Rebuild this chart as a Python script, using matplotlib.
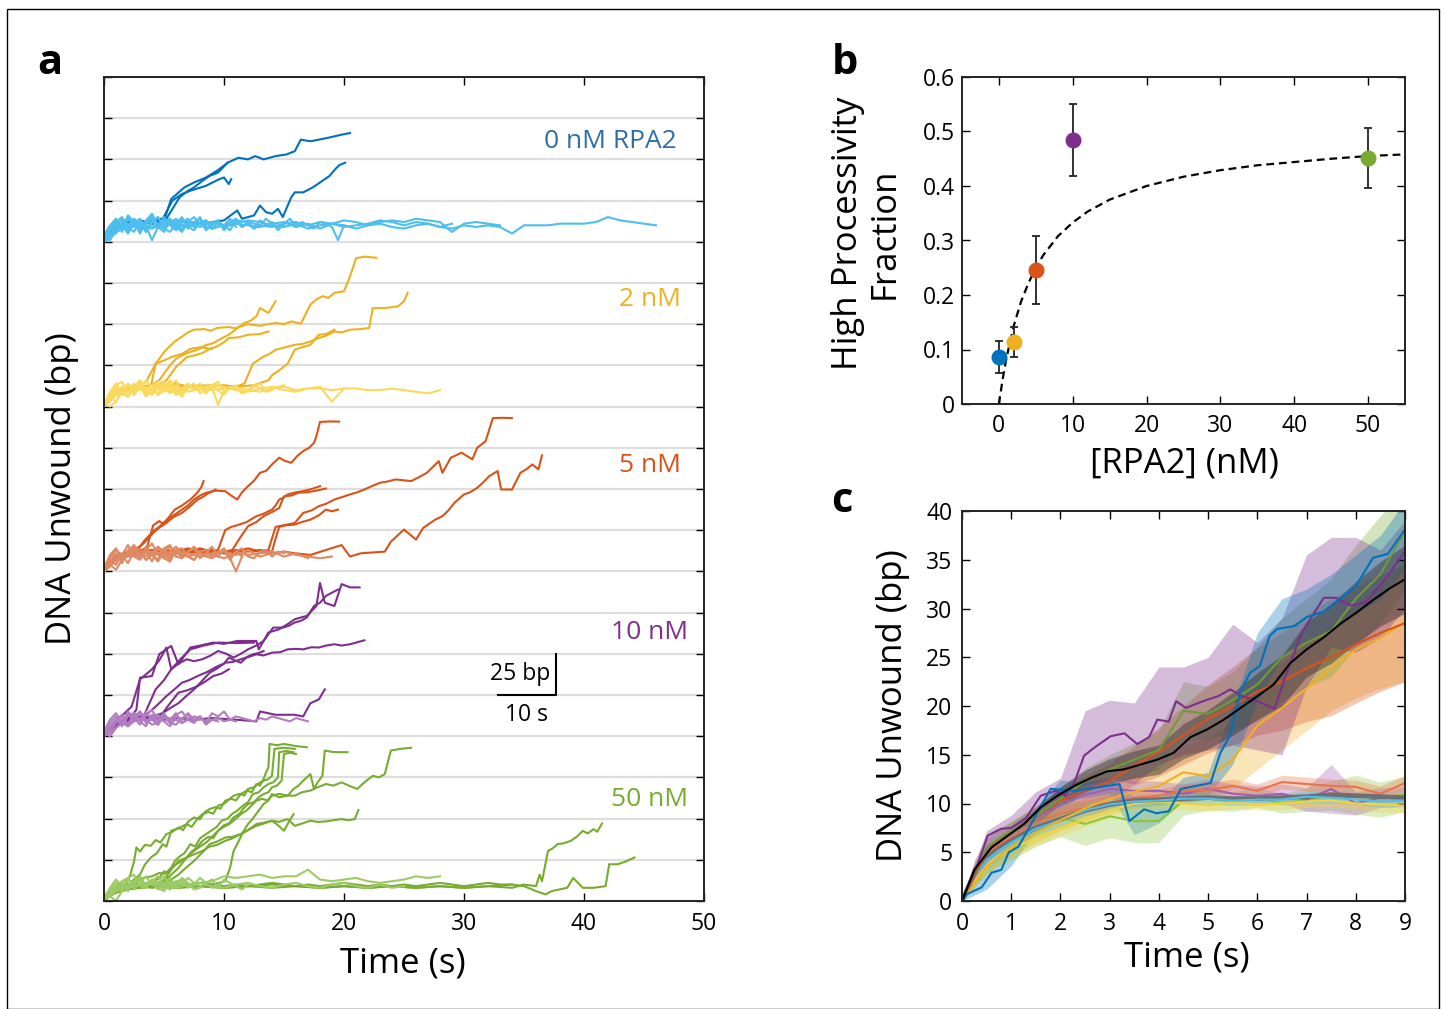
import numpy as np
import matplotlib
matplotlib.use('Agg')
import matplotlib.pyplot as plt
from matplotlib.patches import Rectangle

plt.rcParams['font.family'] = ['Open Sans', 'DejaVu Sans']

# ---------------- panel a data (bp, relative to each group's baseline) ----------------
group_names = ['0 nM RPA2', '2 nM', '5 nM', '10 nM', '50 nM']

# high processivity traces, (time s, bp) knots
hi_0nM = [
    [(0, 1), (1, 9), (2, 11), (3, 12), (4, 11), (4.6, 13), (5.1, 15), (5.6, 26), (6.7, 33), (7.5, 36), (8.5, 39),
     (9.5, 43.5), (10.3, 48), (11.2, 51), (12.0, 50), (12.6, 52), (13.3, 50), (14.3, 52), (15.2, 53), (15.9, 55),
     (16.4, 62), (17.2, 61), (17.9, 62), (18.6, 63), (19.2, 64), (19.8, 65), (20.5, 66)],
    [(0, 0), (1, 8), (2, 12), (3, 11), (4, 13), (4.9, 14), (5.7, 25), (6.5, 29), (7.2, 31), (8.5, 34), (9.6, 38),
     (10.0, 39), (10.4, 35), (10.6, 38)],
    [(0, 2), (1, 7), (2, 10), (3, 12), (4, 12), (5.2, 14), (6.3, 27), (7.0, 31), (7.5, 33), (8.2, 37), (8.8, 40),
     (9.5, 42), (10.3, 48)],
    [(0, 0), (1, 8), (2, 11), (3, 13), (4, 11), (5, 12), (6, 13), (7, 12), (8, 11), (9, 12), (10, 13), (11.1, 19),
     (11.5, 14), (12.0, 15), (12.5, 16), (13.0, 22), (13.5, 18), (14.0, 17), (14.5, 20), (14.9, 15), (15.6, 27),
     (15.9, 30), (16.6, 30), (17.4, 33), (17.8, 35), (18.2, 37), (18.8, 40), (19.2, 43.5), (19.6, 46.5), (20.1, 48)],
]
hi_2nM = [
    [(0, 0), (1, 8), (2, 11), (3, 13), (3.5, 15), (4.3, 26), (4.7, 30), (5.0, 33), (5.4, 36), (5.9, 39.5),
     (6.2, 41), (6.6, 43), (7.0, 45), (7.5, 46.7), (8.4, 47), (8.9, 46), (9.4, 47.7), (10.4, 48.3), (10.9, 47.5),
     (11.4, 48.7), (12.0, 50), (13.0, 49), (13.6, 50), (14.3, 50.7), (15.0, 50), (15.6, 51.7), (16.4, 50.3),
     (17.2, 61.9), (17.7, 65), (18.2, 67), (18.7, 66), (19.2, 69), (20.0, 70), (20.5, 79), (21.0, 90),
     (21.7, 91), (22.7, 90.3)],
    [(0, 1), (1, 9), (2, 12), (3, 11), (4, 13), (4.6, 16), (5.5, 25), (6.0, 29), (6.5, 31), (7.1, 33), (7.8, 34.5),
     (8.4, 37), (9.1, 38.5), (9.7, 41), (10.4, 43.6), (11.0, 47), (11.7, 50.7), (12.2, 52), (12.7, 54.8),
     (13.0, 59.8), (13.7, 56.8), (14.3, 63.9)],
    [(0, 0), (1, 7), (2, 10), (3, 12), (4, 11), (5.2, 16), (6.0, 24), (6.9, 30), (7.5, 31), (8.2, 32.5), (8.8, 35),
     (9.4, 36.5), (10.0, 39), (10.4, 41.6), (11.2, 42), (12.0, 43.6), (13.0, 44), (13.7, 45.6)],
    [(0, 0), (1, 8), (2, 11), (3, 12), (4, 13), (5, 12), (6, 14), (7, 12), (8, 13), (9, 12), (10, 13), (11, 12),
     (11.7, 14), (12.4, 26), (13.3, 30.4), (13.8, 32), (14.3, 34.5), (15.1, 36), (15.9, 37.5), (16.5, 38),
     (17.2, 39.5), (17.9, 41.6), (18.5, 43), (19.2, 45.6), (19.8, 45), (20.5, 46.7), (21.3, 47), (22.1, 47.7),
     (22.4, 59.8), (23.4, 59.8), (24.5, 60.8), (25.0, 64), (25.3, 69)],
    [(0, 1), (1, 9), (2, 12), (3, 11), (5, 13), (7, 12), (9, 13), (11, 12), (12.5, 13), (13.7, 16), (14.0, 19),
     (14.6, 22), (15.3, 26), (15.9, 34.5), (16.5, 36), (17.2, 37.5), (17.9, 43.6), (18.5, 44), (19.2, 46.7)],
    [(0, 0), (1, 9), (2, 12), (3, 13), (3.9, 12), (4.3, 26), (5.0, 28), (5.6, 30), (6.5, 32), (7.2, 35),
     (8.0, 36), (9.0, 35)],
]
hi_5nM = [
    [(0, 0), (1, 8), (2, 11), (3, 12), (3.6, 15), (4.1, 28), (4.6, 30.5), (4.9, 29), (5.2, 31), (5.8, 34),
     (6.5, 37.5), (7.0, 40), (7.5, 43.6), (8.0, 46), (8.5, 47.7), (9.3, 49), (10.1, 48.7), (10.6, 46),
     (11.1, 43.6), (11.5, 48), (12.0, 51.7), (12.5, 55), (13.0, 59.8), (13.5, 61), (14.0, 64.9), (14.6, 69),
     (15.1, 67), (15.6, 65.9), (16.1, 70), (16.6, 73), (17.1, 75), (17.5, 78), (17.7, 82.1), (18.0, 90.7),
     (18.8, 91), (19.6, 90.9)],
    [(0, 1), (1, 9), (2, 12), (3.0, 15), (3.4, 19), (3.8, 22), (4.2, 25), (4.6, 27), (5.2, 31), (5.9, 37.5),
     (6.5, 40), (7.2, 43.6), (7.8, 48), (8.1, 51), (8.3, 54.8)],
    [(0, 0), (1, 7), (2, 11), (2.8, 14), (3.3, 17), (3.8, 21), (4.2, 24), (4.7, 27), (5.2, 29.4), (5.8, 33),
     (6.5, 35.5), (7.1, 39), (7.8, 43.6), (8.2, 45), (8.6, 47), (9.3, 49.7)],
    [(0, 2), (1, 8), (2, 11), (3, 12), (4, 11), (5, 13), (6, 12), (7, 11), (8, 13), (9, 12), (9.5, 13),
     (9.8, 19), (10.1, 25), (10.6, 27), (11.1, 28), (11.9, 30), (12.7, 33.5), (13.3, 35), (14.0, 37.5),
     (14.3, 40), (14.6, 43.6), (15.0, 45), (15.3, 46.7), (16.0, 48), (16.6, 48.7), (17.3, 50), (18.0, 51.7)],
    [(0, 0), (1, 9), (2, 12), (3, 11), (4, 13), (5, 12), (6, 11), (7, 13), (8, 12), (9, 11), (10, 12),
     (10.7, 13), (11.3, 20), (12.0, 27.4), (12.7, 30), (13.3, 33.5), (14.0, 36), (14.6, 38.5), (15.0, 45.6),
     (15.6, 46), (16.2, 47.7), (16.9, 48), (17.5, 48.7), (18.0, 49.5), (18.5, 50.3)],
    [(0, 1), (1, 8), (2, 11), (3, 12), (4, 13), (5, 11), (6, 12), (7, 14), (8, 12), (9, 13), (10, 11), (11, 12),
     (12, 13), (13, 12), (13.7, 13), (14.3, 27), (15.9, 29.4), (16.6, 35.5), (17.3, 37), (17.9, 39.6),
     (18.5, 41), (19.2, 43.6), (19.8, 45), (20.5, 46.7), (21.1, 48), (21.7, 49.7), (22.4, 52), (23.0, 53.8),
     (23.6, 54.5), (24.3, 55.8), (25.6, 54.8), (26.2, 57), (26.9, 59.8), (27.9, 66.9), (28.2, 59.8),
     (28.9, 69), (29.8, 72), (30.7, 68), (31.1, 75), (31.8, 79), (32.1, 86), (32.4, 93), (33.2, 93.2),
     (34.0, 93)],
    [(0, 0), (1, 9), (2, 11), (3, 13), (4, 12), (5, 11), (6, 13), (7, 12), (8, 14), (9, 12), (10, 11), (11, 13),
     (12, 12), (13, 13), (14, 12), (14.3, 20), (14.6, 27), (15.2, 28), (15.9, 28.4), (16.5, 30), (17.2, 31.4),
     (17.9, 34), (18.5, 37.5), (19.0, 36.5), (19.5, 37.5)],
    [(0, 0), (1, 7), (2, 10), (3, 12), (4, 11), (5, 13), (6, 12), (7, 11), (8, 12), (9, 13), (10, 11), (11, 12),
     (12, 14), (13, 12), (14, 11), (15, 12), (15.9, 11), (17.2, 10), (18.5, 13), (19.8, 16), (20.5, 9),
     (21.4, 11), (23.4, 12), (23.9, 18), (25.0, 25.4), (26.0, 19.3), (26.6, 26.4), (27.6, 31.4), (28.2, 33.5),
     (28.7, 37), (29.2, 41.6), (30.0, 46.7), (30.5, 48), (31.1, 50.7), (31.6, 54), (32.1, 57.8), (32.8, 60.9),
     (33.1, 49.7), (34.0, 49.7), (34.7, 59.8), (35.2, 62), (35.7, 64.9), (36.2, 61.9), (36.5, 70.4)],
]
hi_10nM = [
    [(0, 0), (1, 7), (2, 10), (2.7, 16), (3.0, 35.5), (4.0, 36.5), (4.6, 49.7), (5.6, 54.8), (6.2, 43.6),
     (7.2, 53.8), (8.0, 55), (9.1, 56.8), (10.0, 56), (11.1, 57.8), (12.7, 57.8), (12.9, 52.7), (13.7, 62.9),
     (14.6, 64.9), (15.3, 68), (15.9, 71), (16.9, 73), (17.7, 79), (18.0, 93), (18.4, 81), (19.2, 79),
     (19.8, 92.3), (20.5, 90.3), (21.3, 90.3)],
    [(0, 1), (1, 8), (2, 11), (3.3, 12), (4.3, 28.4), (5.0, 34), (5.6, 40.6), (6.2, 44), (6.9, 46.7), (7.5, 45.5),
     (8.2, 46.7), (8.9, 49), (9.5, 51.7), (10.2, 50), (10.8, 47.7), (11.4, 50), (12.0, 52.7), (12.7, 55),
     (13.3, 57.8), (14.1, 65.9), (14.9, 65.9), (15.4, 67), (15.9, 69), (16.4, 70), (16.9, 72), (17.5, 79),
     (18.0, 81), (18.5, 85.2), (19.5, 89)],
    [(0, 0), (1, 8), (2, 10), (3, 11), (4, 12), (4.9, 14), (5.5, 17), (6.2, 20), (6.8, 24), (7.5, 28.4),
     (8.1, 33), (8.8, 38.5), (9.4, 41), (10.1, 44.6), (10.7, 45), (11.4, 46.7), (12.0, 48), (12.7, 49.7),
     (13.3, 49), (14.0, 50.7), (14.7, 51), (15.3, 52.7), (16.0, 53), (16.6, 52.7), (17.3, 54), (17.9, 53.8),
     (18.5, 55), (19.2, 55.8), (19.8, 55), (20.5, 55.8), (21.1, 57), (21.7, 58.2)],
    [(0, 0), (1, 7), (2, 9), (3, 10), (4, 11), (5, 10), (6, 11), (7.5, 10), (9, 11), (11, 10), (12.7, 9),
     (13.0, 15), (14.3, 13), (15.9, 13), (16.6, 12), (17.2, 20), (17.9, 22.3), (18.4, 28.4)],
    [(0, 1), (1, 9), (2.3, 18), (3.0, 34.5), (4.0, 40.6), (4.6, 46), (5.2, 53.8), (5.6, 40.6), (6.4, 47),
     (7.2, 52.7), (8.3, 55), (9.5, 56.8), (11.0, 56.5), (12.5, 56.8)],
    [(0, 0), (1, 8), (2, 10), (3, 12), (3.5, 13), (4.0, 16), (4.6, 20), (5.2, 24.3), (5.8, 28), (6.5, 32.5),
     (7.1, 34), (7.8, 36.5), (8.6, 39), (9.5, 42.6), (10.0, 44), (10.4, 47.7), (10.9, 46), (11.4, 44.6),
     (11.9, 48), (12.4, 49.7), (12.9, 50.5), (13.3, 51.7)],
    [(0, 0), (1, 7), (2, 9), (3, 11), (4.6, 11), (5.4, 19), (6.2, 26.4), (7.0, 28), (7.8, 30.4), (8.4, 33),
     (9.1, 36.5), (9.8, 38), (10.4, 40.6)],
]
hi_50nM = [
    [(0, 0), (1, 7), (1.8, 10), (2.2, 16), (2.5, 24), (2.7, 32.5), (3.0, 30), (3.4, 34), (3.9, 33.5), (4.3, 37),
     (4.7, 35.5), (5.2, 40.6), (5.7, 42), (6.2, 44.6), (6.6, 43), (7.0, 48), (7.5, 50.7), (8.0, 49.5), (8.4, 54),
     (8.8, 55.8), (9.3, 57), (9.7, 56), (10.1, 60.9), (10.6, 62), (11.0, 61), (11.4, 64.9), (11.9, 67),
     (12.3, 66), (12.7, 71), (13.0, 70), (13.3, 74), (13.5, 78), (13.7, 81), (13.8, 95.3), (14.4, 94.5),
     (15.0, 95.3), (16.0, 94), (16.9, 93.3)],
    [(0, 1), (1, 8), (2, 10), (3.0, 16), (3.4, 22), (3.9, 26.4), (4.4, 29), (4.9, 34.5), (5.2, 33), (5.6, 42.6),
     (6.2, 44), (6.9, 46.7), (7.3, 45), (7.8, 50), (8.2, 52.7), (8.7, 54), (9.1, 53), (9.5, 57.8), (10.0, 59),
     (10.4, 61.5), (10.8, 63.9), (11.3, 65), (11.7, 64), (12.0, 68), (12.5, 69), (12.9, 71.5), (13.3, 73),
     (13.7, 74), (14.0, 76), (14.2, 92.3), (15.0, 93), (15.9, 92.3)],
    [(0, 0), (1, 7), (2, 9), (3, 10), (4.0, 11), (4.6, 14), (5.0, 18), (5.4, 17), (5.9, 24.3), (6.3, 27),
     (6.7, 29), (7.2, 34.5), (7.6, 33), (8.0, 38), (8.5, 40.6), (9.0, 43), (9.4, 45), (9.8, 48.7), (10.3, 50),
     (10.7, 53), (11.1, 54.8), (11.6, 58), (12.0, 60), (12.4, 64.9), (12.9, 66), (13.3, 69), (13.7, 71),
     (14.1, 72), (14.5, 75), (14.6, 90.3), (15.2, 91), (15.8, 90.3)],
    [(0, 0), (1, 8), (2, 10), (3, 11), (4, 10), (5.0, 12), (5.6, 16), (6.2, 20), (6.9, 26.4), (7.3, 30),
     (7.7, 32), (8.2, 36.5), (8.7, 39), (9.1, 38), (9.5, 42.6), (10.0, 46), (10.4, 47), (10.8, 50.7),
     (11.3, 53), (11.6, 56), (12.0, 58.8), (12.5, 60), (12.9, 63), (13.3, 64.9), (13.7, 66), (14.0, 69),
     (14.4, 70), (14.8, 73), (15.0, 89.2), (15.5, 90), (16.0, 89.2)],
    [(0, 0), (1, 7), (2.0, 10), (2.7, 12), (3.3, 14), (4, 15), (4.6, 17), (5.1, 16.5), (5.6, 20.3), (6.2, 23),
     (6.8, 26), (7.5, 30.4), (8.0, 33), (8.6, 36), (9.0, 39), (9.5, 42.6), (10.0, 45), (10.5, 47), (11.0, 50),
     (11.4, 52.7), (11.9, 55), (12.3, 58), (12.7, 60.9), (13.2, 62), (13.6, 61), (14.0, 63.9), (14.6, 65),
     (15.3, 63.9), (15.8, 68), (16.2, 70), (16.6, 73), (17.2, 77), (17.5, 68), (17.8, 72), (18.2, 76),
     (18.4, 91.3), (19.0, 90.5), (19.5, 90.3), (20.3, 90.3)],
    [(0, 0), (1, 6), (2, 9), (3, 10), (4, 9), (5, 10), (6, 11), (7, 10), (8, 11), (9, 10), (10.1, 12),
     (10.5, 20), (10.8, 30.4), (11.2, 36), (11.6, 42), (12.0, 46.7), (12.4, 50), (12.9, 55), (13.3, 58.8),
     (13.7, 61), (14.0, 64.9), (14.6, 62.9), (15.2, 64), (15.9, 63.9), (16.5, 66), (17.2, 67), (17.8, 69),
     (18.5, 71), (19.1, 70), (19.8, 72), (20.4, 70), (21.1, 68), (21.7, 72), (22.4, 76), (22.9, 75),
     (23.4, 77), (23.9, 91.3), (24.7, 92.3), (25.6, 93)],
    [(0, 0), (1, 7), (2, 9), (3, 8), (4.0, 9), (4.6, 8), (5.2, 15), (5.7, 20), (6.2, 24.3), (6.8, 26),
     (7.4, 28), (8.2, 30.4), (8.8, 33), (9.4, 34), (10.1, 36.5), (10.7, 38), (11.4, 40.6), (12.0, 43),
     (12.7, 46.7), (13.3, 47.5), (14.0, 48.7), (14.6, 48), (15.3, 49.7), (15.9, 45.6), (16.5, 47), (17.2, 48.7),
     (17.8, 48), (18.5, 48.3), (19.1, 49), (19.8, 49.7), (20.4, 49), (20.9, 49.7), (21.2, 55.2)],
    [(0, 1), (1, 8), (2, 10), (3, 9), (4, 10), (5, 11), (5.6, 13), (6.2, 16), (6.8, 20), (7.5, 24.3), (8.0, 28),
     (8.4, 31), (8.8, 34.5), (9.4, 36), (10.1, 38.5), (10.7, 39), (11.4, 40.6), (12.0, 43), (12.7, 45.6),
     (13.3, 47), (14.0, 48.7), (14.5, 46), (15.0, 42.6), (15.4, 48), (15.8, 52.7)],
    [(0, 0), (1, 6), (2, 8), (3, 9), (4, 8), (5, 9), (6, 8), (8, 9), (10, 8), (12, 9), (14, 8), (16, 9), (18, 8),
     (20, 9), (22, 8), (24, 9), (26, 8), (28, 9), (30, 8), (32, 9), (34, 8), (35, 10), (36.0, 9), (36.3, 16),
     (36.5, 12), (37.0, 30.4), (37.4, 32), (37.8, 34.5), (38.3, 35), (38.9, 36.5), (39.4, 39), (39.9, 42.6),
     (40.3, 41), (40.8, 43.6), (41.1, 42), (41.5, 47)],
    [(0, 1), (1, 5), (2, 7), (3, 8), (4, 9), (6, 8), (8, 9), (10, 8), (12, 9), (14, 10), (16, 9), (18, 8),
     (20, 9), (22, 8), (24, 9), (26, 8), (28, 9), (30, 8), (32, 9), (34, 10), (35, 9), (36, 6), (36.8, 4),
     (37.3, 6), (38.6, 8), (39.1, 14), (39.9, 8), (40.8, 8), (41.8, 9), (42.1, 22.3), (42.8, 22.3),
     (43.5, 24), (44.2, 26.4)],
]

# low processivity traces: (sampling step s, bp values)
lo_0nM = [
    (1.0, [0, 7, 10, 11, 9, 12, 10, 9, 11, 12, 9, 11, 10, 9, 11, 12, 9, 11, 8, 11, 10, 8, 10, 11, 9, 8, 10, 11, 9,
           8, 10, 9, 10, 9, 5, 10, 10, 10, 11, 11, 11, 12, 15, 13, 12, 11, 10]),
    (1.0, [0, 6, 9, 11, 12, 10, 13, 11, 9, 12, 10, 13, 12, 10, 9, 11, 12, 10, 12, 11, 13, 12, 10, 12, 13, 12, 14,
           13, 12, 6, 11, 12, 11, 10]),
    (1.0, [0, 8, 11, 9, 8, 11, 12, 9, 11, 8, 10, 11, 13, 12, 10, 9, 11, 8, 10, 11, 9, 10, 11, 13, 12, 10, 12, 11,
           9, 11]),
    (0.5, [0, 6, 11, 7, 14, 9, 13, 6, 12, 15, 8, 11, 14, 7, 12, 10, 15, 8, 11, 13, 7, 12, 14, 9, 11, 8, 13, 10,
           12, 7, 11, 14, 9, 12, 10, 8, 12, 11, 9, 1, 10]),
    (0.5, [2, 8, 13, 6, 15, 10, 7, 12, 16, 9, 6, 13, 11, 15, 8, 12, 14, 7, 10, 13]),
    (0.5, [0, 3, 9, 14, 8, 12, 5, 13, 17, 10, 8, 14, 9, 6, 12, 15, 11, 8]),
    (0.5, [1, 7, 12, 15, 9, 6, 13, 10, 1, 9, 13, 11, 8, 14, 10, 12]),
    (0.5, [0, 2, 6, 10, 5, 11, 14, 7, 12, 15, 8, 6, 11, 14, 9, 7, 12, 13, 8, 11, 10, 7, 13, 9, 12, 8, 10, 14, 11,
           9, 10]),
    (0.5, [4, 10, 14, 8, 16, 12, 7, 11, 15, 9, 12, 14, 8, 10]),
    (0.5, [0, 9, 5, 12, 8, 14, 11, 6, 13, 9, 15, 10, 7, 12, 14, 9, 11, 13, 8, 12, 10, 14, 9]),
    (0.5, [3, 1, 7, 11, 6, 13, 9, 12, 16, 10, 8, 13, 11, 7, 12]),
]
lo_2nM = [
    (1.0, [0, 7, 9, 11, 10, 12, 11, 9, 11, 10, 11, 12, 10, 9, 11, 12, 10, 11, 11, 10, 11, 11, 10, 10, 11, 10, 9,
           8, 10]),
    (1.0, [0, 8, 10, 11, 12, 10, 9, 12, 11, 13, 12, 10, 9, 11, 12, 10, 9, 11, 12, 3, 11]),
    (0.5, [1, 6, 11, 7, 13, 9, 14, 8, 12, 15, 9, 13, 7, 11, 14, 10, 12, 8, 13, 15, 9, 11, 13, 8, 10, 12, 14, 9, 11,
           12, 13]),
    (0.5, [0, 5, 12, 8, 14, 10, 15, 9, 13, 7, 12, 16, 10, 8, 13, 11, 14, 9, 12, 1, 10]),
    (0.5, [2, 0, 3, 9, 13, 7, 12, 6, 11, 14, 12, 8, 10]),
    (0.5, [0, 8, 13, 15, 9, 14, 10, 16, 11, 8, 14, 12]),
    (0.5, [0, 4, 9, 12, 6, 11, 14, 8, 13, 7, 10, 15, 9, 6, 12, 14, 8, 11, 13, 10, 7, 12, 11, 8, 10, 13, 11, 9, 10]),
    (0.5, [1, 9, 14, 8, 6, 12, 16, 11, 7, 12, 15, 9, 13, 8, 11]),
    (0.5, [0, 6, 3, 10, 13, 9, 15, 11, 8, 14, 10, 12, 16, 9, 13, 11, 10]),
]
lo_5nM = [
    (1.0, [0, 7, 9, 10, 12, 9, 12, 11, 9, 11, 12, 10, 13, 9, 11, 12, 10, 9, 8, 9]),
    (0.5, [0, 4, 9, 6, 12, 15, 8, 13, 10, 7, 14, 16, 9, 8, 12, 14, 8, 11, 15, 9, 13, 7, 12, 14, 9, 8, 12, 13, 9,
           12, 11]),
    (0.5, [2, 4, 1, 7, 11, 13, 8, 15, 10, 7, 14, 9, 13, 8, 12, 15, 11, 9, 8, 12, 13, 8, 0, 9]),
    (0.5, [0, 8, 13, 10, 16, 9, 7, 13, 17, 10, 8, 12, 15, 11, 9, 7, 12]),
    (0.5, [1, 6, 11, 5, 13, 15, 9, 12, 6, 14, 11, 8, 11]),
    (1.0, [0, 8, 11, 9, 10, 12, 11, 9, 11, 10, 8, 11, 10, 11, 12, 9, 11, 8]),
    (0.5, [0, 3, 7, 10, 5, 12, 14, 7, 11, 15, 8, 6, 13, 14, 9, 7, 12, 13, 8, 11, 14, 9, 12, 9]),
    (0.5, [2, 10, 14, 7, 12, 16, 11, 7, 10, 15, 12, 6, 13, 10]),
    (0.5, [0, 7, 4, 11, 9, 14, 8, 13, 10, 6, 12, 15, 9]),
]
lo_10nM = [
    (0.5, [0, 6, 10, 7, 12, 14, 9, 6, 13, 10, 14, 8, 7, 11, 13, 9, 12, 8, 14, 12, 15, 10, 9]),
    (0.5, [2, 0, 5, 9, 7, 13, 14, 8, 11, 13, 9, 6, 12, 10, 14, 10, 10]),
    (0.5, [0, 8, 12, 6, 14, 9, 15, 10, 7, 8, 13, 9, 13, 15, 10, 8, 12, 7, 10, 9]),
    (0.5, [1, 4, 10, 13, 7, 14, 9, 15, 10, 7, 12, 8, 10]),
    (0.5, [0, 2, 5, 8, 6, 9, 11, 9, 10, 12, 9, 11, 10, 8, 10, 12, 11, 9, 10, 11, 9, 10, 12, 11, 10, 9, 11, 10, 12,
           11, 10, 9, 11, 10, 9]),
    (0.5, [3, 10, 14, 8, 15, 11, 7, 13, 16, 9, 12, 9]),
    (0.5, [0, 3, 8, 12, 6, 11, 15, 9, 12, 7, 13, 10, 14, 8, 11]),
]
lo_50nM = [
    (1.0, [0, 7, 9, 10, 12, 10, 11, 9, 11, 12, 15, 14, 15, 16, 14, 15, 15, 19, 13, 12, 13, 14, 12, 11, 12, 13, 15,
           14, 15]),
    (1.0, [0, 6, 8, 10, 11, 9, 8, 10, 11, 9, 8, 10, 11, 9, 8, 10, 11, 9, 8, 10, 11, 9, 8, 10, 8, 9]),
    (0.5, [0, 5, 9, 12, 14, 7, 11, 15, 10, 8, 6, 12, 9, 14, 11, 7, 8, 11, 13, 8, 13, 11, 9, 7, 10]),
    (0.5, [1, 3, 0, 6, 10, 12, 14, 8, 13, 11, 7, 9, 12, 10, 14, 11, 9]),
    (0.5, [0, 4, 8, 11, 6, 12, 14, 8, 12, 15, 9, 7, 12, 13, 8, 10, 14, 11, 8, 10, 12]),
    (0.5, [2, 8, 13, 9, 14, 16, 9, 8, 13, 11, 15, 10]),
    (0.5, [0, 6, 11, 7, 13, 10, 15, 9, 12, 7, 11, 14, 9, 12]),
]
dark_50nM = [
    (1.0, [0, 7, 9, 10, 9, 10, 9, 10, 11, 10, 9, 10, 9, 10, 11, 10, 9, 10, 9, 10, 11, 10, 9, 10, 9, 10, 9, 10,
           11, 10, 9, 10, 11, 10, 10]),
]

hi_traces = [hi_0nM, hi_2nM, hi_5nM, hi_10nM, hi_50nM]
lo_traces = [lo_0nM, lo_2nM, lo_5nM, lo_10nM, lo_50nM]

# ---------------- panel b data ----------------
conc_nM = [0, 2, 5, 10, 50]
hp_fraction = [0.086, 0.114, 0.246, 0.484, 0.452]
hp_err = [0.029, 0.028, 0.062, 0.066, 0.055]
fit_conc = [0, 0.5, 1, 2, 3, 4, 5, 6, 8, 10, 12, 15, 20, 25, 30, 35, 40, 45, 50, 55]
fit_frac = [0, 0.045, 0.083, 0.143, 0.188, 0.222, 0.25, 0.273, 0.308, 0.333, 0.353, 0.375, 0.40, 0.417,
            0.429, 0.438, 0.444, 0.45, 0.455, 0.458]

# ---------------- panel c data ----------------
grid_t = [0, 0.5, 1, 1.5, 2, 2.5, 3, 3.5, 4, 4.5, 5, 5.5, 6, 6.5, 7, 7.5, 8, 8.5, 9]

blue_hi_t = [0, 0.1, 0.4, 0.6, 0.8, 0.95, 1.15, 1.35, 1.6, 1.8, 2.3, 2.95, 3.2, 3.4, 3.7, 3.95, 4.2, 4.45, 5.05,
             5.25, 5.45, 5.65, 5.85, 6.05, 6.25, 6.4, 6.75, 7.0, 7.35, 7.7, 8.0, 8.35, 8.65, 9.0]
blue_hi_y = [0, 0.7, 1.4, 2.9, 3.2, 5.0, 5.6, 7.4, 9.7, 11.5, 11.3, 11.8, 12.0, 8.2, 9.4, 9.0, 9.2, 11.5, 12.1,
             15.2, 17.0, 21.4, 23.4, 24.1, 27.2, 27.9, 28.2, 29.1, 29.7, 31.1, 32.3, 35.2, 35.6, 38.1]
blue_hi_lo = [0, 1.2, 3.6, 7.2, 10.4, 10.6, 11.0, 6.8, 8.0, 10.3, 10.8, 14.0, 20.5, 25.0, 26.5, 28.0, 29.5, 31.0, 34.0]
blue_hi_up = [0.5, 3.2, 6.4, 9.6, 12.4, 12.2, 12.6, 10.6, 10.2, 12.7, 13.2, 20.0, 27.5, 31.0, 32.0, 33.5, 35.5, 37.5, 41.0]

purple_hi_t = [0, 0.3, 0.52, 0.79, 1.0, 1.3, 1.6, 1.9, 2.1, 2.28, 2.48, 2.68, 3.02, 3.3, 3.56, 3.8, 3.97, 4.2,
               4.35, 4.55, 4.9, 5.2, 5.45, 5.7, 6.0, 6.35, 6.6, 6.9, 7.35, 7.6, 7.9, 8.2, 8.4, 8.6, 9.0]
purple_hi_y = [0, 3.5, 6.7, 7.4, 7.5, 8.5, 10.8, 11.3, 10.8, 12.1, 14.9, 15.7, 16.9, 17.2, 16.1, 16.8, 18.6,
               18.4, 20.5, 19.8, 20.5, 21.0, 21.7, 21.0, 20.5, 19.7, 23.5, 27.5, 31.1, 31.1, 30.3, 30.6, 31.8,
               33.0, 35.9]
purple_hi_lo = [0, 4.5, 6.3, 8.5, 9.8, 11.5, 12.5, 12.0, 14.0, 15.0, 15.5, 16.0, 15.5, 15.0, 22.0, 26.0, 25.5, 27.0, 30.0]
purple_hi_up = [0.5, 7.2, 8.8, 11.2, 12.6, 19.5, 20.6, 20.3, 24.0, 24.0, 25.0, 28.4, 26.5, 29.0, 35.5, 37.3, 37.3, 36.0, 39.0]

orange_hi_y = [0, 5.0, 7.0, 8.7, 10.3, 11.3, 12.3, 13.9, 15.3, 17.0, 18.7, 20.0, 21.5, 22.5, 23.9, 25.0, 26.3, 27.5, 28.5]
orange_hi_lo = [0, 4.4, 6.2, 7.7, 9.1, 9.8, 10.5, 11.9, 12.8, 14.0, 15.2, 16.0, 17.0, 17.5, 18.4, 19.0, 20.3, 21.5, 22.5]
orange_hi_up = [0.5, 5.6, 7.8, 9.7, 11.5, 12.8, 14.1, 15.9, 17.8, 20.0, 22.2, 24.0, 26.0, 27.5, 29.4, 31.0, 32.3, 33.5, 34.5]

yellow_hi_y = [0, 3.5, 5.5, 7.0, 8.3, 9.5, 10.5, 11.2, 11.8, 13.2, 12.8, 14.5, 18.0, 19.8, 21.8, 23.9, 25.8, 27.0, 28.6]
yellow_hi_lo = [0, 2.8, 4.6, 6.0, 7.2, 8.2, 9.0, 9.5, 9.8, 10.5, 10.8, 11.5, 13.5, 15.5, 17.5, 19.5, 20.8, 21.8, 22.5]
yellow_hi_up = [0.5, 4.2, 6.4, 8.0, 9.4, 10.8, 12.0, 12.9, 13.8, 15.9, 16.8, 18.5, 22.5, 24.5, 26.5, 28.5, 30.5, 32.5, 35.0]

green_hi_y = [0, 5.5, 7.2, 8.7, 10.5, 12.3, 13.5, 14.5, 15.5, 19.5, 19.2, 20.6, 22.2, 25.0, 26.5, 27.7, 31.0, 33.5, 38.0]
green_hi_lo = [0, 4.5, 6.2, 7.7, 9.3, 11.0, 12.0, 12.8, 13.5, 16.5, 16.5, 17.5, 18.5, 20.5, 22.0, 23.0, 26.0, 28.5, 32.0]
green_hi_up = [0.5, 6.5, 8.2, 9.7, 11.7, 13.6, 15.0, 16.2, 17.5, 22.5, 22.0, 23.5, 26.0, 29.0, 31.0, 33.0, 36.5, 39.5, 42.0]

black_t = [0, 0.25, 0.6, 0.93, 1.26, 1.6, 1.94, 2.28, 2.61, 2.95, 3.29, 3.63, 3.97, 4.3, 4.64, 4.98, 5.32, 5.66,
           6.0, 6.33, 6.67, 7.0, 7.34, 7.68, 8.02, 8.36, 8.7, 9.0]
black_y = [0, 3.2, 5.5, 6.7, 7.9, 9.6, 10.8, 11.8, 12.6, 13.3, 13.5, 14.0, 14.5, 15.2, 16.8, 17.6, 18.6, 19.8,
           21.0, 22.2, 24.4, 25.8, 27.0, 28.4, 29.6, 30.9, 32.1, 33.0]
black_lo = [0, 4.0, 5.9, 7.9, 9.9, 11.2, 12.0, 12.6, 13.0, 14.6, 15.6, 17.0, 18.6, 20.0, 23.0, 24.4, 26.4, 28.2, 29.5]
black_up = [0.5, 5.2, 7.3, 9.5, 11.7, 13.4, 14.6, 15.4, 16.0, 18.2, 19.6, 21.4, 23.4, 25.2, 28.6, 30.4, 32.8, 34.8, 36.5]

low_t = [0, 0.25, 0.5, 0.75, 1, 1.5, 2, 2.5, 3, 3.5, 4, 4.5, 5, 5.5, 6, 6.5, 7, 7.5, 8, 8.5, 9]
gray_lo_y = [0, 2.8, 4.4, 5.4, 6.2, 7.5, 8.4, 9.3, 9.9, 10.3, 10.4, 10.5, 10.6, 10.5, 10.5, 10.6, 10.7, 10.9, 10.8, 10.7, 10.6]
cyan_lo_y = [0, 2.5, 4.2, 5.2, 6.0, 7.4, 8.3, 9.3, 9.9, 10.2, 10.3, 10.5, 10.5, 10.3, 10.4, 10.4, 10.7, 10.6, 10.4, 10.2, 10.3]
yellow_lo_y = [0, 2.0, 3.6, 4.5, 5.3, 6.5, 7.5, 8.4, 9.3, 10.0, 10.2, 10.0, 9.8, 10.1, 9.9, 10.0, 10.2, 10.3, 10.0, 9.9, 9.8]
orange_lo_y = [0, 3.0, 4.8, 5.8, 6.6, 8.0, 8.9, 9.6, 10.1, 10.6, 10.8, 11.3, 11.4, 11.8, 11.3, 12.2, 12.0, 11.8, 11.7, 11.0, 12.1]
purple_lo_y = [0, 3.2, 5.2, 6.2, 7.0, 8.6, 9.8, 10.9, 11.5, 11.3, 11.3, 11.0, 11.5, 11.0, 10.8, 11.0, 10.4, 11.5, 10.0, 10.6, 10.7]
green_lo_y = [0, 2.6, 4.3, 5.4, 6.2, 7.6, 8.6, 7.9, 8.7, 8.2, 8.2, 10.3, 10.5, 10.2, 10.6, 10.0, 10.4, 10.8, 10.9, 10.4, 11.0]
cyan_lo_hw = [0, 0.8, 1.0, 1.0, 1.0, 0.8, 0.7, 0.6, 0.6, 0.5, 0.5, 0.5, 0.6, 0.5, 0.5, 0.5, 0.6, 0.5, 0.5, 0.6, 0.6]
yellow_lo_hw = [0, 0.6, 0.8, 0.8, 0.8, 0.8, 0.8, 0.8, 0.8, 0.6, 0.6, 0.6, 0.6, 0.6, 0.6, 0.6, 0.6, 0.6, 0.6, 0.8, 0.8]
orange_lo_hw = [0, 0.8, 0.8, 0.8, 0.8, 0.8, 0.8, 0.8, 0.8, 0.7, 0.7, 0.7, 0.7, 0.7, 0.7, 0.7, 0.7, 0.7, 0.7, 0.8, 0.8]
purple_lo_hw = [0, 1.0, 1.2, 1.2, 1.0, 1.0, 1.0, 1.0, 1.0, 1.0, 1.0, 1.0, 1.0, 1.0, 1.0, 1.0, 1.2, 2.5, 1.2, 1.0, 1.0]
green_lo_hw = [0, 1.2, 1.5, 1.8, 2.0, 2.0, 2.0, 2.2, 2.2, 2.2, 2.2, 1.5, 1.2, 1.0, 1.0, 1.0, 1.2, 1.5, 2.0, 1.8, 1.8]

# ---------------- colours ----------------
hi_colors = ['#0072BD', '#EDB120', '#D95319', '#7E2F8E', '#77AC30']
lo_colors = ['#4DBEEE', '#F9DA5E', '#DF8A62', '#B27CC1', '#9CCB66']
label_colors = ['#2E6EA6', '#EDB120', '#D95319', '#7E2F8E', '#77AC30']
group_offsets = [400, 300, 200, 100, 0]

fig = plt.figure(figsize=(14.44, 10.09), dpi=100)
fig.add_artist(Rectangle((7 / 1444, 0.0), 1432 / 1444, 1 - 9 / 1009, transform=fig.transFigure,
                         fill=False, edgecolor='black', lw=1.0))

tick_kw = dict(direction='in', top=True, right=True, length=6, width=1.0, labelsize=16.5)
label_fs = 25


def style_axes(ax):
    for sp in ax.spines.values():
        sp.set_linewidth(1.4)
        sp.set_color('#222222')
    ax.tick_params(which='both', **tick_kw)


# ================= panel a =================
ax_a = fig.add_axes([104 / 1444, 1 - 901 / 1009, 600 / 1444, 824 / 1009])
ax_a.set_xlim(0, 50)
ax_a.set_ylim(0, 500)
ax_a.set_yticks(np.arange(0, 501, 25))
ax_a.set_yticklabels([])
ax_a.set_xticks(range(0, 51, 10))
ax_a.yaxis.grid(True, color='#dedede', lw=1.6)
ax_a.set_axisbelow(True)
style_axes(ax_a)
ax_a.tick_params(axis='x', pad=8)

label_x = [47.7, 48.1, 48.1, 48.7, 48.7]
label_dy = [61, 65, 64, 63, 61.5]
for g, off in enumerate(group_offsets):
    for pts in hi_traces[g]:
        arr = np.array(pts, dtype=float)
        ax_a.plot(arr[:, 0], arr[:, 1] + off, color=hi_colors[g], lw=1.5)
    if g == 4:
        for step, vals in dark_50nM:
            ax_a.plot(np.arange(len(vals)) * step, np.array(vals) + off, color=hi_colors[g], lw=1.5)
    for step, vals in lo_traces[g]:
        ax_a.plot(np.arange(len(vals)) * step, np.array(vals) + off, color=lo_colors[g], lw=1.5)
    ax_a.text(label_x[g], off + label_dy[g], group_names[g], color=label_colors[g], fontsize=19,
              ha='right', va='center')

# scale bar
ax_a.plot([32.8, 37.7, 37.7], [125, 125, 150], color='black', lw=1.5)
ax_a.text(37.2, 137.5, '25 bp', fontsize=16.5, ha='right', va='center')
ax_a.text(35.2, 113, '10 s', fontsize=16.5, ha='center', va='center')

fig.text(62 / 1444, 1 - 489 / 1009, 'DNA Unwound (bp)', rotation=90, fontsize=label_fs, ha='center', va='center')
fig.text(403 / 1444, 1 - 963 / 1009, 'Time (s)', fontsize=label_fs, ha='center', va='center')
fig.text(50 / 1444, 1 - 64 / 1009, 'a', fontsize=30, fontweight='bold', ha='center', va='center')

# ================= panel b =================
ax_b = fig.add_axes([962 / 1444, 1 - 404 / 1009, 443 / 1444, 327 / 1009])
ax_b.set_xlim(-5, 55)
ax_b.set_ylim(0, 0.6)
ax_b.set_xticks(range(0, 51, 10))
ax_b.set_yticks(np.arange(0, 0.61, 0.1))
ax_b.set_yticklabels(['0', '0.1', '0.2', '0.3', '0.4', '0.5', '0.6'])
style_axes(ax_b)
ax_b.tick_params(axis='x', pad=7)
ax_b.tick_params(axis='y', pad=5)
ax_b.plot(fit_conc, fit_frac, color='black', lw=1.6, ls='--', dashes=(3.5, 2.2))
for i in range(len(conc_nM)):
    ax_b.errorbar(conc_nM[i], hp_fraction[i], yerr=hp_err[i], fmt='none', ecolor='#222222', elinewidth=1.3,
                  capsize=3, capthick=1.3)
    ax_b.plot(conc_nM[i], hp_fraction[i], 'o', color=hi_colors[i], markersize=11.5, markeredgewidth=0)

fig.text(848 / 1444, 1 - 233 / 1009, 'High Processivity', rotation=90, fontsize=label_fs, ha='center', va='center')
fig.text(885 / 1444, 1 - 233 / 1009, 'Fraction', rotation=90, fontsize=label_fs, ha='center', va='center')
fig.text(1184 / 1444, 1 - 463 / 1009, '[RPA2] (nM)', fontsize=label_fs, ha='center', va='center')
fig.text(845 / 1444, 1 - 64 / 1009, 'b', fontsize=30, fontweight='bold', ha='center', va='center')

# ================= panel c =================
ax_c = fig.add_axes([962 / 1444, 1 - 901 / 1009, 443 / 1444, 390 / 1009])
ax_c.set_xlim(0, 9)
ax_c.set_ylim(0, 40)
ax_c.set_xticks(range(0, 10))
ax_c.set_yticks(range(0, 41, 5))
style_axes(ax_c)
ax_c.tick_params(axis='x', pad=8)
ax_c.tick_params(axis='y', pad=7)

band_alpha = 0.32
ax_c.fill_between(grid_t, yellow_hi_lo, yellow_hi_up, color='#EDB120', alpha=band_alpha, lw=0)
ax_c.fill_between(grid_t, orange_hi_lo, orange_hi_up, color='#D95319', alpha=band_alpha, lw=0)
ax_c.fill_between(grid_t, green_hi_lo, green_hi_up, color='#77AC30', alpha=band_alpha, lw=0)
ax_c.fill_between(grid_t, purple_hi_lo, purple_hi_up, color='#7E2F8E', alpha=band_alpha, lw=0)
ax_c.fill_between(grid_t, blue_hi_lo, blue_hi_up, color='#0072BD', alpha=band_alpha, lw=0)
ax_c.fill_between(grid_t, black_lo, black_up, color='#333333', alpha=0.45, lw=0)

lt = np.array(low_t)
for y, hw, col in [(green_lo_y, green_lo_hw, '#8CC63F'), (purple_lo_y, purple_lo_hw, '#A35DB5'),
                   (orange_lo_y, orange_lo_hw, '#E8744A'), (yellow_lo_y, yellow_lo_hw, '#F7D33A'),
                   (cyan_lo_y, cyan_lo_hw, '#4DBEEE')]:
    y = np.array(y)
    hw = np.array(hw)
    ax_c.fill_between(lt, y - hw, y + hw, color=col, alpha=band_alpha, lw=0)

for y, col in [(green_lo_y, '#8CC63F'), (purple_lo_y, '#A35DB5'), (orange_lo_y, '#E8744A'),
               (yellow_lo_y, '#F7D33A')]:
    ax_c.plot(low_t, y, color=col, lw=1.5)
ax_c.plot(low_t, gray_lo_y, color='#6f6f6f', lw=3.4)
ax_c.plot(low_t, cyan_lo_y, color='#4DBEEE', lw=1.5)

ax_c.plot(grid_t, yellow_hi_y, color='#EDB120', lw=1.5)
ax_c.plot(grid_t, orange_hi_y, color='#D95319', lw=1.5)
ax_c.plot(grid_t, green_hi_y, color='#6E9B34', lw=1.5)
ax_c.plot(purple_hi_t, purple_hi_y, color='#7E2F8E', lw=1.5)
ax_c.plot(blue_hi_t, blue_hi_y, color='#0072BD', lw=1.5)
ax_c.plot(black_t, black_y, color='black', lw=1.5)

fig.text(893 / 1444, 1 - 706 / 1009, 'DNA Unwound (bp)', rotation=90, fontsize=label_fs, ha='center', va='center')
fig.text(1187 / 1444, 1 - 958 / 1009, 'Time (s)', fontsize=label_fs, ha='center', va='center')
fig.text(842 / 1444, 1 - 502 / 1009, 'c', fontsize=30, fontweight='bold', ha='center', va='center')

fig.savefig('out.png', dpi=100)
